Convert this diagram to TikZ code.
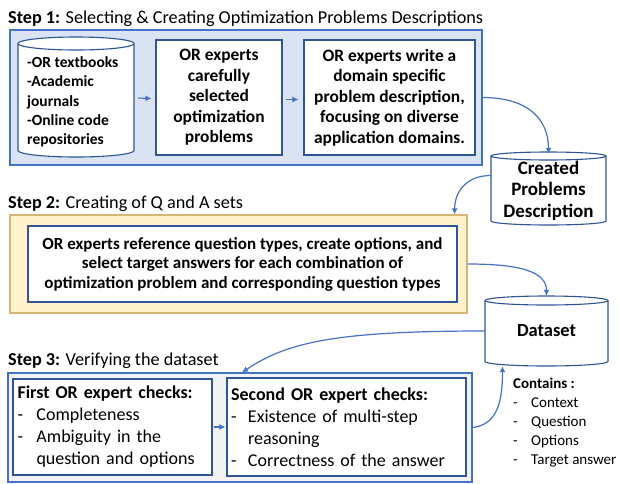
\documentclass[tikz,border=0pt]{standalone}
\usepackage{fontspec}
\setmainfont{Carlito}
\usetikzlibrary{arrows.meta}

\definecolor{edgeblue}{HTML}{4472C4}
\definecolor{boxblue}{HTML}{2F5597}
\definecolor{stepone}{HTML}{DAE3F3}
\definecolor{steptwo}{HTML}{FFF2CC}
\definecolor{steptwoedge}{HTML}{D9B574}
\definecolor{stepthree}{HTML}{F2F2F2}

% drum outline: centre x, centre y, x radius, half height, ellipse y radius
\newcommand\drum[5]{%
  \filldraw[drumline] (#1-#3,#2-#4+#5) -- (#1-#3,#2+#4-#5)
    arc[start angle=180,end angle=360,x radius=#3pt,y radius=#5pt]
    -- (#1+#3,#2-#4+#5)
    arc[start angle=0,end angle=180,x radius=#3pt,y radius=#5pt] -- cycle;
  \draw[drumline] (#1-#3,#2-#4+#5)
    arc[start angle=180,end angle=360,x radius=#3pt,y radius=#5pt];}

\tikzset{
  stage/.style={draw=edgeblue,line width=1.2pt,rectangle,inner sep=0pt},
  task/.style={draw=boxblue,fill=white,line width=1.1pt,rectangle,inner sep=3pt,
    align=center,font=\fontsize{17.4}{20.5}\selectfont\bfseries},
  drumline/.style={draw=boxblue,fill=white,line width=1.1pt},
  hole/.style={rectangle,inner sep=0pt,align=center},
  flow/.style={draw=edgeblue,line width=1.2pt,-{Latex[length=6pt,width=6pt]}},
  title/.style={anchor=base west,inner sep=0pt,font=\fontsize{18.2}{21}\selectfont}
}

\begin{document}
\begin{tikzpicture}[x=1pt,y=-1pt]
  \useasboundingbox (0,0) rectangle (621,483);

  % step 1: sources -> selection -> description
  \node[title] (t1) at (8,23) {\textbf{Step 1:} Selecting \& Creating Optimization Problems Descriptions};
  \node[stage,fill=stepone,minimum width=472pt,minimum height=135pt] (step1) at (246,97.5) {};
  \drum{76}{97}{58}{60}{6.5}
  \node[hole,minimum width=116pt,minimum height=120pt] (src) at (76,97) {};
  \node[anchor=west,align=left,inner sep=0pt,font=\fontsize{15.5}{19.3}\selectfont\bfseries]
    (srclist) at (27,102) {-OR textbooks\\-Academic\\journals\\-Online code\\repositories};
  \node[task,minimum width=126pt,minimum height=115pt] (pick) at (219,97.5)
    {OR experts\\carefully\\selected\\optimization\\problems};
  \node[task,minimum width=171pt,minimum height=115pt] (write) at (389.5,97.5)
    {OR experts write a\\domain specific\\problem description,\\focusing on diverse\\application domains.};
  \drum{548.5}{188.5}{57.5}{36.5}{4}
  \node[hole,minimum width=115pt,minimum height=73pt,font=\fontsize{19}{21.5}\selectfont\bfseries]
    (created) at (548.5,190.5) {Created\\Problems\\Description};

  % step 2: question and answer sets
  \node[title] (t2) at (8,208) {\textbf{Step 2:} Creating of Q and A sets};
  \node[stage,draw=steptwoedge,fill=steptwo,minimum width=457pt,minimum height=98pt] (step2) at (238.5,264) {};
  \node[task,minimum width=429pt,minimum height=76pt,font=\fontsize{17}{19.5}\selectfont\bfseries] (qa) at (242.5,264)
    {OR experts reference question types, create options, and\\select target answers for each combination of\\optimization problem and corresponding question types};
  \drum{546.5}{331}{61.5}{35}{4.5}
  \node[hole,minimum width=123pt,minimum height=70pt,font=\fontsize{18.5}{22}\selectfont\bfseries]
    (dataset) at (546.5,331) {Dataset};
  \node[anchor=north west,align=left,inner sep=0pt,font=\fontsize{15}{19}\selectfont] (contains) at (513,378)
    {\textbf{Contains :}\\
     \makebox[18pt][l]{-}Context\\
     \makebox[18pt][l]{-}Question\\
     \makebox[18pt][l]{-}Options\\
     \makebox[18pt][l]{-}Target answer};

  % step 3: two rounds of checking
  \node[title] (t3) at (8,365) {\textbf{Step 3:} Verifying the dataset};
  \node[stage,fill=stepthree,minimum width=464pt,minimum height=109pt] (step3) at (240,427.5) {};
  \node[task,minimum width=199pt,minimum height=96pt,text width=190pt,align=left,inner sep=4pt,
    font=\fontsize{18}{22}\selectfont] (chk1) at (112.5,427)
    {\textbf{First OR expert checks:}\\
     \makebox[19pt][l]{-}Completeness\\
     \makebox[19pt][l]{-}Ambiguity in the\\
     \hspace*{19pt}question and options};
  \node[task,minimum width=239pt,minimum height=98pt,text width=231pt,align=left,inner sep=4pt,
    font=\fontsize{18}{22}\selectfont] (chk2) at (346.5,427)
    {\textbf{Second OR expert checks:}\\
     \makebox[17pt][l]{-}Existence of multi-step\\
     \hspace*{17pt}reasoning\\
     \makebox[17pt][l]{-}Correctness of the answer};

  % connectors
  \draw[flow] ([xshift=4pt,yshift=-1pt]src.east) -- ([xshift=-4pt,yshift=-1pt]pick.west);
  \draw[flow] ([xshift=3pt,yshift=-2pt]pick.east) -- ([xshift=-5pt,yshift=-2pt]write.west);
  \draw[flow] (step1.east) .. controls +(45,0) and +(0,-35) .. (created.north);
  \draw[flow] ([yshift=15pt]created.west) .. controls +(-25,0) and +(0,-22) .. ([xshift=-13pt]step2.north east);
  \draw[flow] (step2.east) .. controls +(50,0) and +(0,-25) .. (dataset.north);
  \draw[flow] (dataset.west) .. controls +(-150,0) and +(45,-30) .. ([xshift=2pt]step3.north);
  \draw[flow] (step3.east) .. controls +(25,-3) and +(0,35) .. ([xshift=-44pt]dataset.south);
  \draw[flow] ([xshift=1pt]chk1.east) -- ([xshift=-1pt]chk2.west);
\end{tikzpicture}
\end{document}
